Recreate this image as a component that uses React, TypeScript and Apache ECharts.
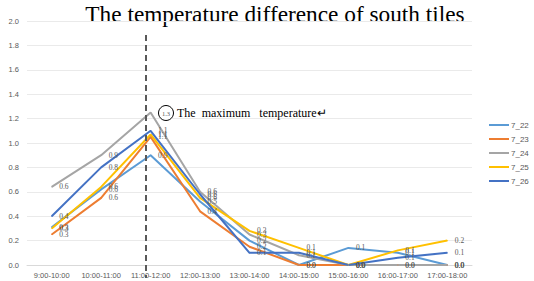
import React, { useEffect, useRef } from "react";
import * as echarts from "echarts";

const categories = [
  "9:00-10:00",
  "10:00-11:00",
  "11:00-12:00",
  "12:00-13:00",
  "13:00-14:00",
  "14:00-15:00",
  "15:00-16:00",
  "16:00-17:00",
  "17:00-18:00",
];
const seriesNames = ["7_22", "7_23", "7_24", "7_25", "7_26"];
const s722 = [0.31, 0.62, 0.9, 0.52, 0.2, 0.0, 0.14, 0.1, 0.0];
const s723 = [0.25, 0.55, 1.05, 0.44, 0.15, 0.0, 0.0, 0.0, 0.0];
const s724 = [0.64, 0.9, 1.25, 0.6, 0.25, 0.08, 0.0, 0.0, 0.0];
const s725 = [0.3, 0.64, 1.07, 0.55, 0.28, 0.14, 0.0, 0.12, 0.2];
const s726 = [0.4, 0.8, 1.1, 0.58, 0.1, 0.1, 0.0, 0.06, 0.1];
const colors = ["#5B9BD5", "#ED7D31", "#A5A5A5", "#FFC000", "#4472C4"];
const yTicks = { min: 0, max: 2, interval: 0.2 };
const circledPoint = { series: 2, index: 2 };

export default function App() {
  const ref = useRef<HTMLDivElement>(null);
  useEffect(() => {
    if (!ref.current) return;
    const chart = echarts.init(ref.current, null, { renderer: "svg" });
    const data = [s722, s723, s724, s725, s726];
    chart.setOption({
      animation: false,
      backgroundColor: "#ffffff",
      grid: { left: 27, right: 62, top: 21, bottom: 16, containLabel: false },
      legend: {
        orient: "vertical",
        left: 484,
        top: 115,
        itemWidth: 20,
        itemHeight: 2,
        itemGap: 4,
        icon: "rect",
        data: seriesNames,
        textStyle: { fontSize: 8, color: "#595959", padding: [0, 0, 0, -3], lineHeight: 10, fontFamily: "Liberation Sans" },
      },
      xAxis: {
        type: "category",
        data: categories,
        boundaryGap: true,
        axisLine: { lineStyle: { color: "#D9D9D9" } },
        axisTick: { show: false },
        axisLabel: { fontSize: 7.5, color: "#595959", margin: 6, interval: 0, fontFamily: "Liberation Sans" },
      },
      yAxis: {
        type: "value",
        min: yTicks.min,
        max: yTicks.max,
        interval: yTicks.interval,
        axisLine: { show: false },
        axisTick: { show: false },
        splitLine: { lineStyle: { color: "#EAEAEA" } },
        axisLabel: {
          fontSize: 7.5,
          color: "#595959",
          margin: 8,
          fontFamily: "Liberation Sans",
          formatter: (v: number) => v.toFixed(1),
        },
      },
      series: data.map((d, i) => ({
        name: seriesNames[i],
        type: "line",
        data: d.map((v, j) =>
          i === circledPoint.series && j === circledPoint.index ? { value: v, label: { show: false } } : v
        ),
        showSymbol: true,
        symbol: "circle",
        symbolSize: 1,
        color: colors[i],
        itemStyle: { color: colors[i] },
        lineStyle: { width: 2, color: colors[i] },
        label: {
          show: true,
          position: "right",
          distance: 7,
          offset: [0, 4],
          fontSize: 7.5,
          color: "#595959",
          fontFamily: "Liberation Serif",
          formatter: (p: any) => (Math.round(p.value * 10) / 10).toFixed(1),
        },
        labelLayout: { hideOverlap: false },
      })),
      graphic: [
        {
          type: "text",
          x: 275,
          y: 2,
          style: {
            text: "The temperature difference of south tiles",
            fontSize: 23.3,
            fontFamily: "Liberation Serif",
            fill: "#000000",
            align: "center",
            verticalAlign: "top",
          },
        },
        {
          type: "line",
          shape: { x1: 146, y1: 35, x2: 146, y2: 278 },
          style: { stroke: "#595959", lineWidth: 2, lineDash: [6, 4] },
          z: 10,
        },
        {
          type: "circle",
          shape: { cx: 166, cy: 113, r: 7.5 },
          style: { fill: "#ffffff", stroke: "#000000", lineWidth: 1 },
          z: 10,
        },
        {
          type: "text",
          x: 166,
          y: 113,
          style: {
            text: "1.3",
            fontSize: 6.5,
            fontFamily: "Liberation Serif",
            fill: "#595959",
            align: "center",
            verticalAlign: "middle",
          },
          z: 11,
        },
        {
          type: "text",
          x: 177,
          y: 113,
          style: {
            text: "The  maximum   temperature\u21B5",
            fontSize: 12,
            fontFamily: "Liberation Serif",
            fill: "#000000",
            verticalAlign: "middle",
          },
          z: 11,
        },
      ],
    });
    return () => chart.dispose();
  }, []);
  return <div ref={ref} style={{ width: 534, height: 281, position: "absolute", left: 0, top: 0 }} />;
}
